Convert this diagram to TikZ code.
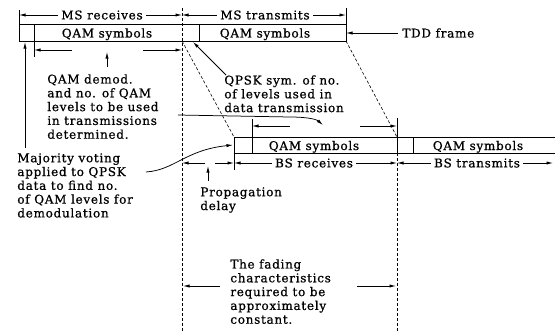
\documentclass[tikz,border=0pt]{standalone}
\usepackage{fontspec}
\setmainfont[LetterSpace=6,FakeBold=0.8]{DejaVu Serif}
\usetikzlibrary{arrows.meta}
\begin{document}
\begin{tikzpicture}[x=1pt,y=-1pt,line width=0.75pt,
  arr/.style={-{Latex[length=6.5pt,width=3.2pt]}},
  dsh/.style={dash pattern=on 3pt off 2pt,line width=0.6pt},
  lbl/.style={inner sep=0pt,font=\fontsize{12}{13.8}\selectfont},
  blk/.style={lbl,align=left,anchor=north west}]
\useasboundingbox (0,0) rectangle (555,332);
% ---------- coordinates ----------
\coordinate (msL) at (19,24);
\coordinate (msR) at (346,24);
\coordinate (msM) at (182,24);
\coordinate (bsL) at (234,137);
\coordinate (bsM) at (397,137);
\coordinate (bsE) at (553,137);
% ---------- MS frame ----------
\draw (19,24) rectangle (346,41);
\draw (34,24) -- (34,57);
\draw (199,24) -- (199,41);
\draw (19,10) -- (19,24);
\draw (346,8) -- (346,24);
\draw[dsh] (182,8) -- (182,332);
\node[lbl,anchor=base] (qam1) at (107,37.5) {QAM symbols};
\node[lbl,anchor=base] (qam2) at (265,37.5) {QAM symbols};
% MS dimensions
\node[lbl] (msr) at (102,15) {MS receives};
\node[lbl] (mst) at (265,15) {MS transmits};
\draw[arr] ([xshift=-3pt]msr.west) -- (msr.west -| msL);
\draw[arr] ([xshift=3pt]msr.east) -- (msr.east -| msM);
\draw[arr] ([xshift=-3pt]mst.west) -- (mst.west -| msM);
\draw[arr] ([xshift=3pt]mst.east) -- (mst.east -| msR);
% TDD frame
\node[lbl,anchor=west] (tdd) at (402,33) {TDD frame};
\draw[arr] ([xshift=-4pt]tdd.west) -- (tdd.west -| msR);
% arrows below MS frame
\coordinate (a1) at (72,50);
\coordinate (a2) at (34,50);
\coordinate (a3) at (143,50);
\coordinate (a4) at (182,50);
\draw[arr] (a1) -- (a2);
\draw[arr] (a3) -- (a4);
% QAM demod text
\node[blk] (demod) at (47,74) {QAM demod.\\and no. of QAM\\levels to be used\\in transmissions\\determined.};
\coordinate (u1) at (107,67);
\coordinate (u2) at (107,52);
\draw[arr] (u1) -- (u2);
% QPSK text
\node[blk] (qpsk) at (224,75) {QPSK sym. of no.\\of levels used in\\data transmission};
\coordinate (q1) at (193,42);
\draw[arr] ([xshift=2pt]qpsk.north west) -- (q1);
% curve to BS arrow row
\coordinate (c0) at (178,115);
\coordinate (c1) at (290,117);
\coordinate (c2) at (323,125);
\draw[arr] (c0) -- (c1) .. controls (306,117) and (316,119) .. (c2);
% dashed diagonals
\draw[dsh] (182,41) -- (bsL);
\draw[dsh] (346,41) -- (bsM);
% ---------- BS frame ----------
\draw (555,137) -- (234,137) -- (234,153) -- (555,153);
\draw (234,137) -- (234,170);
\draw (252,119) -- (252,153);
\draw (397,118) -- (397,153);
\draw (413,137) -- (413,153);
\draw[dsh] (397,153) -- (397,332);
\node[lbl,anchor=base] (qam3) at (314,150) {QAM symbols};
\node[lbl,anchor=base] (qam4) at (478,150) {QAM symbols};
% arrows above BS frame
\coordinate (b1) at (290,126);
\coordinate (b2) at (252,126);
\coordinate (b3) at (360,126);
\coordinate (b4) at (397,126);
\draw[arr] (b1) -- (b2);
\draw[arr] (b3) -- (b4);
% BS dimensions
\node[lbl] (bsr) at (314,163) {BS receives};
\node[lbl] (bst) at (477,163) {BS transmits};
\draw[arr] ([xshift=-3pt]bsr.west) -- (bsr.west -| bsL);
\draw[arr] ([xshift=3pt]bsr.east) -- (bsr.east -| bsM);
\draw[arr] ([xshift=-3pt]bst.west) -- (bst.west -| bsM);
\draw[arr] ([xshift=3pt]bst.east) -- (bst.east -| bsE);
% propagation delay
\coordinate (p1) at (205,163);
\coordinate (p2) at (182,163);
\coordinate (p3) at (215,163);
\coordinate (p4) at (234,163);
\draw[arr] (p1) -- (p2);
\draw[arr] (p3) -- (p4);
\node[blk] (prop) at (200,187) {Propagation\\delay};
\coordinate (pu1) at (208,181);
\coordinate (pu2) at (208,166);
\draw[arr] (pu1) -- (pu2);
% majority voting
\node[blk] (maj) at (17,153) {Majority voting\\applied to QPSK\\data to find no.\\of QAM levels for\\demodulation};
\coordinate (m0) at (25,148);
\coordinate (m1) at (25,42);
\draw[arr] (m0) -- (m1);
\coordinate (mc0) at (146,172);
\coordinate (mc1) at (233,145);
\draw[arr] (mc0) .. controls (175,170) and (185,150) .. (mc1);
% fading
\node[blk] (fad) at (230,259) {The fading\\characteristics\\required to be\\approximately\\constant.};
\coordinate (f1) at (220,286);
\coordinate (f2) at (183,286);
\coordinate (f3) at (357,286);
\coordinate (f4) at (396,286);
\draw[arr] (f1) -- (f2);
\draw[arr] (f3) -- (f4);
\end{tikzpicture}
\end{document}
